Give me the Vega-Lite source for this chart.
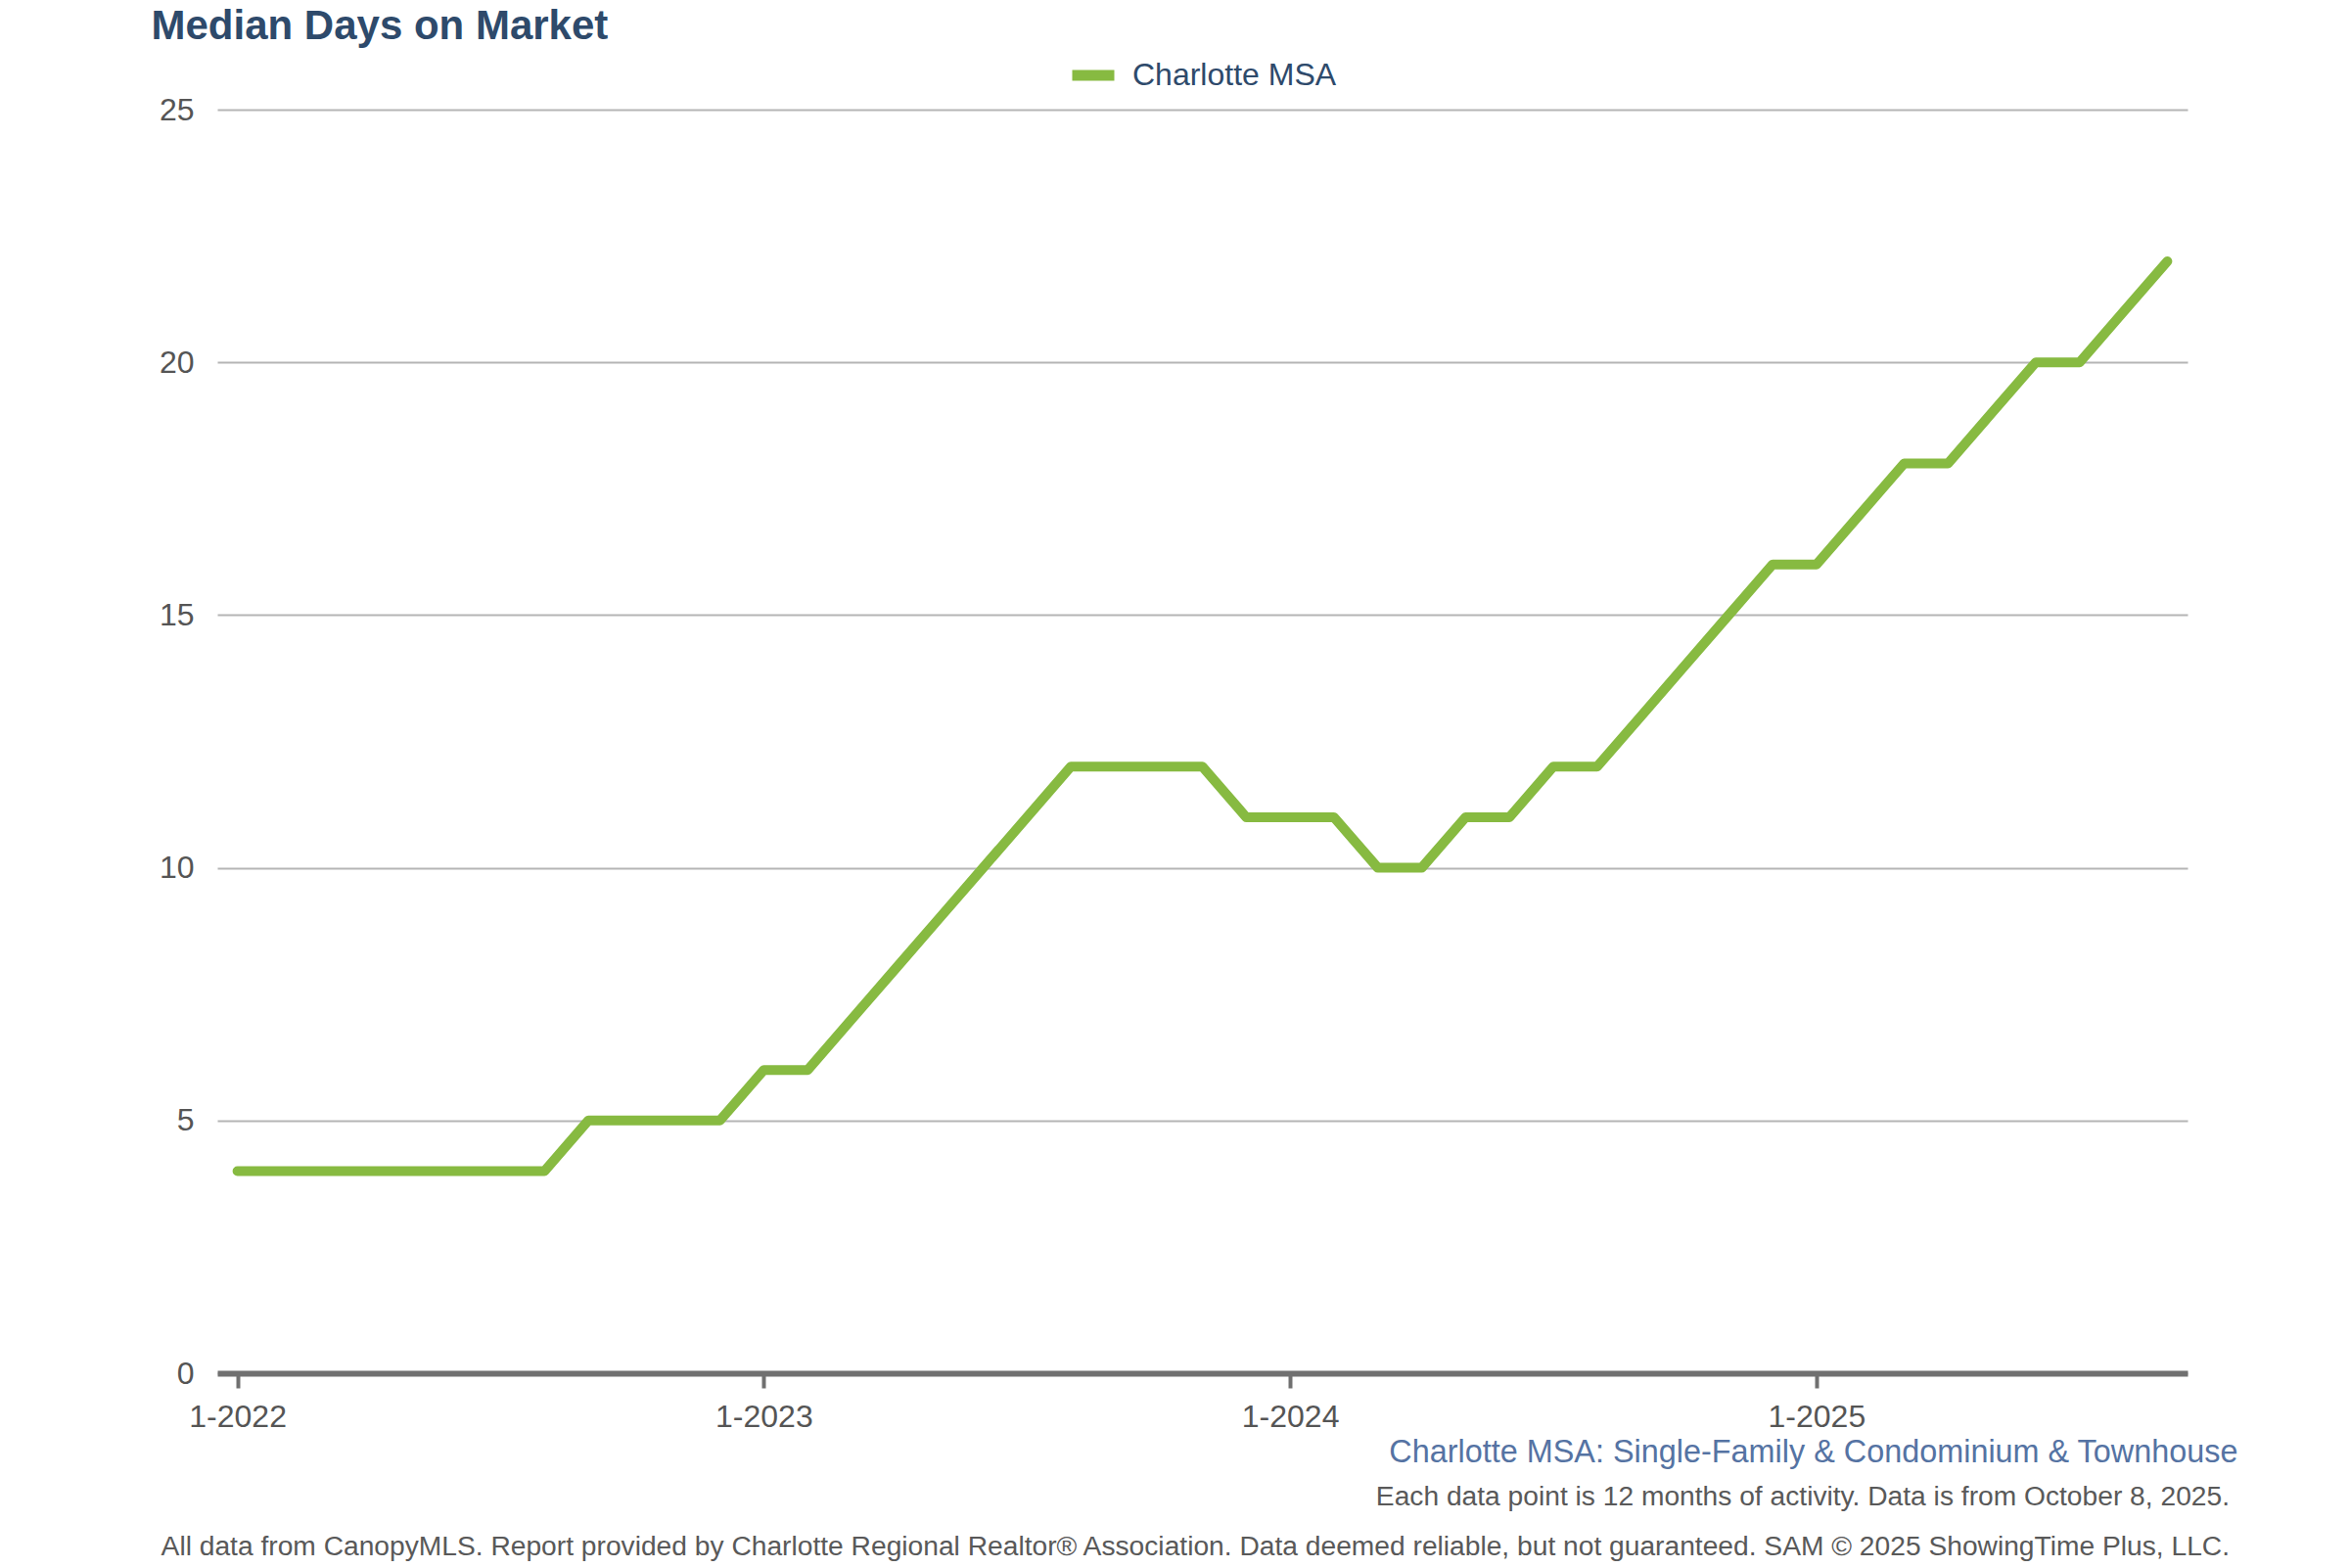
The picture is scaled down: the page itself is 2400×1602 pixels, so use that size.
{
  "$schema": "https://vega.github.io/schema/vega-lite/v6.json",
  "autosize": {"type": "none"},
  "width": 2013,
  "height": 1291,
  "padding": {"left": 222, "top": 112, "right": 165, "bottom": 199},
  "background": "#ffffff",
  "config": {
    "view": {"stroke": null},
    "font": "Liberation Sans"
  },
  "title": {
    "text": [
      "Each data point is 12 months of activity. Data is from October 8, 2025.",
      "All data from CanopyMLS. Report provided by Charlotte Regional Realtor® Association. Data deemed reliable, but not guaranteed. SAM © 2025 ShowingTime Plus, LLC."
    ],
    "orient": "bottom",
    "anchor": "end",
    "frame": "group",
    "align": "right",
    "dx": 43,
    "offset": 17,
    "font": "Liberation Sans",
    "fontSize": 28.2,
    "fontWeight": "normal",
    "color": "#595959",
    "lineHeight": 51
  },
  "data": {
    "values": [
      {"month": "2022-01", "days": 4, "series": "Charlotte MSA"},
      {"month": "2022-02", "days": 4, "series": "Charlotte MSA"},
      {"month": "2022-03", "days": 4, "series": "Charlotte MSA"},
      {"month": "2022-04", "days": 4, "series": "Charlotte MSA"},
      {"month": "2022-05", "days": 4, "series": "Charlotte MSA"},
      {"month": "2022-06", "days": 4, "series": "Charlotte MSA"},
      {"month": "2022-07", "days": 4, "series": "Charlotte MSA"},
      {"month": "2022-08", "days": 4, "series": "Charlotte MSA"},
      {"month": "2022-09", "days": 5, "series": "Charlotte MSA"},
      {"month": "2022-10", "days": 5, "series": "Charlotte MSA"},
      {"month": "2022-11", "days": 5, "series": "Charlotte MSA"},
      {"month": "2022-12", "days": 5, "series": "Charlotte MSA"},
      {"month": "2023-01", "days": 6, "series": "Charlotte MSA"},
      {"month": "2023-02", "days": 6, "series": "Charlotte MSA"},
      {"month": "2023-03", "days": 7, "series": "Charlotte MSA"},
      {"month": "2023-04", "days": 8, "series": "Charlotte MSA"},
      {"month": "2023-05", "days": 9, "series": "Charlotte MSA"},
      {"month": "2023-06", "days": 10, "series": "Charlotte MSA"},
      {"month": "2023-07", "days": 11, "series": "Charlotte MSA"},
      {"month": "2023-08", "days": 12, "series": "Charlotte MSA"},
      {"month": "2023-09", "days": 12, "series": "Charlotte MSA"},
      {"month": "2023-10", "days": 12, "series": "Charlotte MSA"},
      {"month": "2023-11", "days": 12, "series": "Charlotte MSA"},
      {"month": "2023-12", "days": 11, "series": "Charlotte MSA"},
      {"month": "2024-01", "days": 11, "series": "Charlotte MSA"},
      {"month": "2024-02", "days": 11, "series": "Charlotte MSA"},
      {"month": "2024-03", "days": 10, "series": "Charlotte MSA"},
      {"month": "2024-04", "days": 10, "series": "Charlotte MSA"},
      {"month": "2024-05", "days": 11, "series": "Charlotte MSA"},
      {"month": "2024-06", "days": 11, "series": "Charlotte MSA"},
      {"month": "2024-07", "days": 12, "series": "Charlotte MSA"},
      {"month": "2024-08", "days": 12, "series": "Charlotte MSA"},
      {"month": "2024-09", "days": 13, "series": "Charlotte MSA"},
      {"month": "2024-10", "days": 14, "series": "Charlotte MSA"},
      {"month": "2024-11", "days": 15, "series": "Charlotte MSA"},
      {"month": "2024-12", "days": 16, "series": "Charlotte MSA"},
      {"month": "2025-01", "days": 16, "series": "Charlotte MSA"},
      {"month": "2025-02", "days": 17, "series": "Charlotte MSA"},
      {"month": "2025-03", "days": 18, "series": "Charlotte MSA"},
      {"month": "2025-04", "days": 18, "series": "Charlotte MSA"},
      {"month": "2025-05", "days": 19, "series": "Charlotte MSA"},
      {"month": "2025-06", "days": 20, "series": "Charlotte MSA"},
      {"month": "2025-07", "days": 20, "series": "Charlotte MSA"},
      {"month": "2025-08", "days": 21, "series": "Charlotte MSA"},
      {"month": "2025-09", "days": 22, "series": "Charlotte MSA"}
    ]
  },
  "mark": {"type": "line", "strokeWidth": 10, "strokeCap": "round", "strokeJoin": "round"},
  "encoding": {
    "x": {
      "field": "month",
      "type": "ordinal",
      "sort": "ascending",
      "scale": {"type": "point", "padding": 0.46},
      "axis": {
        "values": ["2022-01", "2023-01", "2024-01", "2025-01"],
        "labelExpr": "'1-' + slice(datum.value, 0, 4)",
        "labelAngle": 0,
        "grid": false,
        "domain": true,
        "domainColor": "#707070",
        "domainWidth": 6,
        "ticks": true,
        "tickColor": "#707070",
        "tickWidth": 4,
        "tickSize": 15,
        "labelPadding": 14,
        "labelFont": "Liberation Sans",
        "labelFontSize": 32,
        "labelColor": "#555555",
        "labelFlush": false,
        "title": "Charlotte MSA: Single-Family & Condominium & Townhouse",
        "titleFont": "Liberation Sans",
        "titleFontSize": 32.4,
        "titleFontWeight": "normal",
        "titleColor": "#5573a3",
        "titleAlign": "right",
        "titleAnchor": "end",
        "titleBaseline": "alphabetic",
        "titleX": 2064,
        "titleY": 90
      }
    },
    "y": {
      "field": "days",
      "type": "quantitative",
      "scale": {"domain": [0, 25], "nice": false, "zero": true},
      "axis": {
        "values": [0, 5, 10, 15, 20, 25],
        "grid": true,
        "gridColor": "#b5b5b5",
        "gridWidth": 2,
        "domain": false,
        "ticks": false,
        "tickSize": 0,
        "labelPadding": 24,
        "labelFont": "Liberation Sans",
        "labelFontSize": 32,
        "labelColor": "#555555",
        "title": "Median Days on Market",
        "titleFont": "Liberation Sans",
        "titleFontSize": 42,
        "titleFontWeight": "bold",
        "titleColor": "#2e4a6b",
        "titleAngle": 0,
        "titleAlign": "left",
        "titleBaseline": "alphabetic",
        "titleX": -68,
        "titleY": -73
      }
    },
    "color": {
      "field": "series",
      "type": "nominal",
      "scale": {"domain": ["Charlotte MSA"], "range": ["#87ba41"]},
      "legend": {
        "title": null,
        "orient": "none",
        "legendX": 868,
        "legendY": -62,
        "padding": 0,
        "symbolType": "stroke",
        "symbolSize": 1849,
        "symbolStrokeWidth": 11,
        "labelOffset": 13,
        "labelLimit": 0,
        "labelFont": "Liberation Sans",
        "labelFontSize": 32,
        "labelColor": "#2e4a6b"
      }
    }
  }
}
